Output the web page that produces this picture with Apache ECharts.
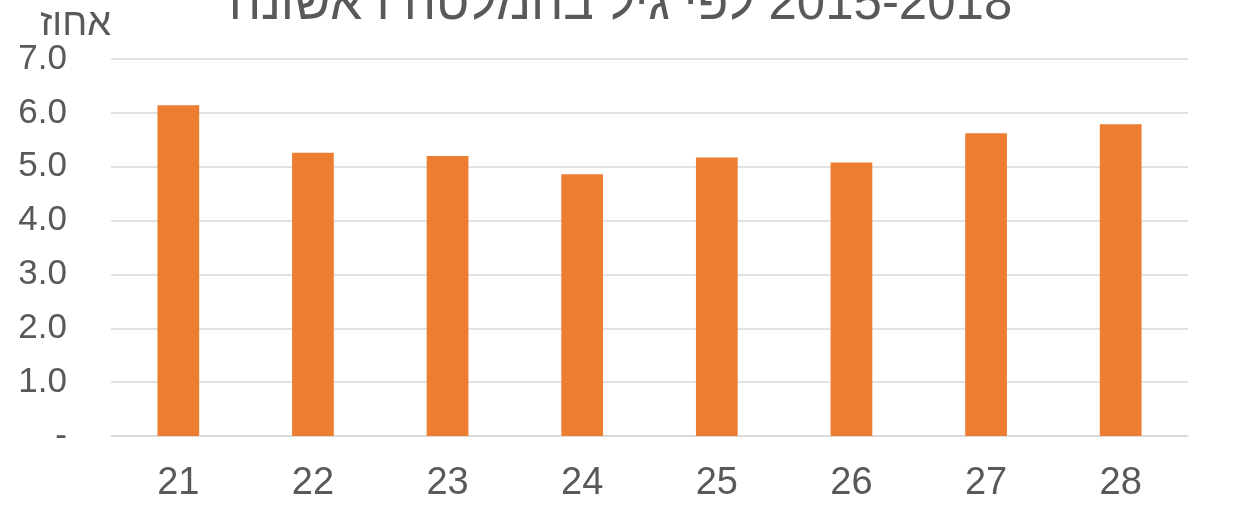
<!DOCTYPE html>
<html>
<head>
<meta charset="utf-8">
<script src="https://cdn.jsdelivr.net/npm/echarts@6/dist/echarts.min.js"></script>
<style>
  html, body { margin: 0; padding: 0; background: #fff; }
  #chart { width: 1241px; height: 507px; }
</style>
</head>
<body>
<div id="chart"></div>
<script>
// נתונים
const titleText = '2015-2018 לפי גיל בהמלטה ראשונה'
const yName = 'אחוז'
const ages = ['21', '22', '23', '24', '25', '26', '27', '28']
const percents = [6.14, 5.26, 5.20, 4.86, 5.17, 5.08, 5.62, 5.79]

const chart = echarts.init(document.getElementById('chart'))
const fontFamily = '"Liberation Sans", Arial, sans-serif'
const textColor = '#595959'

chart.setOption({
  animation: false,
  textStyle: { fontFamily },
  title: {
    // RLE ... PDF so the Hebrew sentence is laid out right-to-left
    text: '\u202B' + titleText + '\u202C',
    left: 'center',
    top: -26,
    textStyle: { fontFamily, fontSize: 51, fontWeight: 'normal', color: textColor }
  },
  graphic: [
    {
      type: 'text',
      left: 40,
      top: 6,
      style: { text: yName, fontFamily, fontSize: 38, fill: textColor }
    }
  ],
  grid: { left: 111, right: 53, top: 59, bottom: 71 },
  xAxis: {
    type: 'category',
    data: ages,
    axisTick: { show: false },
    axisLine: { lineStyle: { color: '#d9d9d9', width: 1.5 } },
    axisLabel: { color: textColor, fontSize: 38, margin: 29 }
  },
  yAxis: {
    type: 'value',
    min: 0,
    max: 7,
    interval: 1,
    axisLine: { show: false },
    axisTick: { show: false },
    splitLine: { lineStyle: { color: '#d9d9d9', width: 1.5 } },
    axisLabel: {
      color: textColor,
      fontSize: 35,
      margin: 44,
      formatter: v => (v === 0 ? '-' : v.toFixed(1))
    }
  },
  series: [
    {
      type: 'bar',
      data: percents,
      barWidth: '31%',
      itemStyle: { color: '#ED7D31' }
    }
  ]
})
</script>
</body>
</html>
